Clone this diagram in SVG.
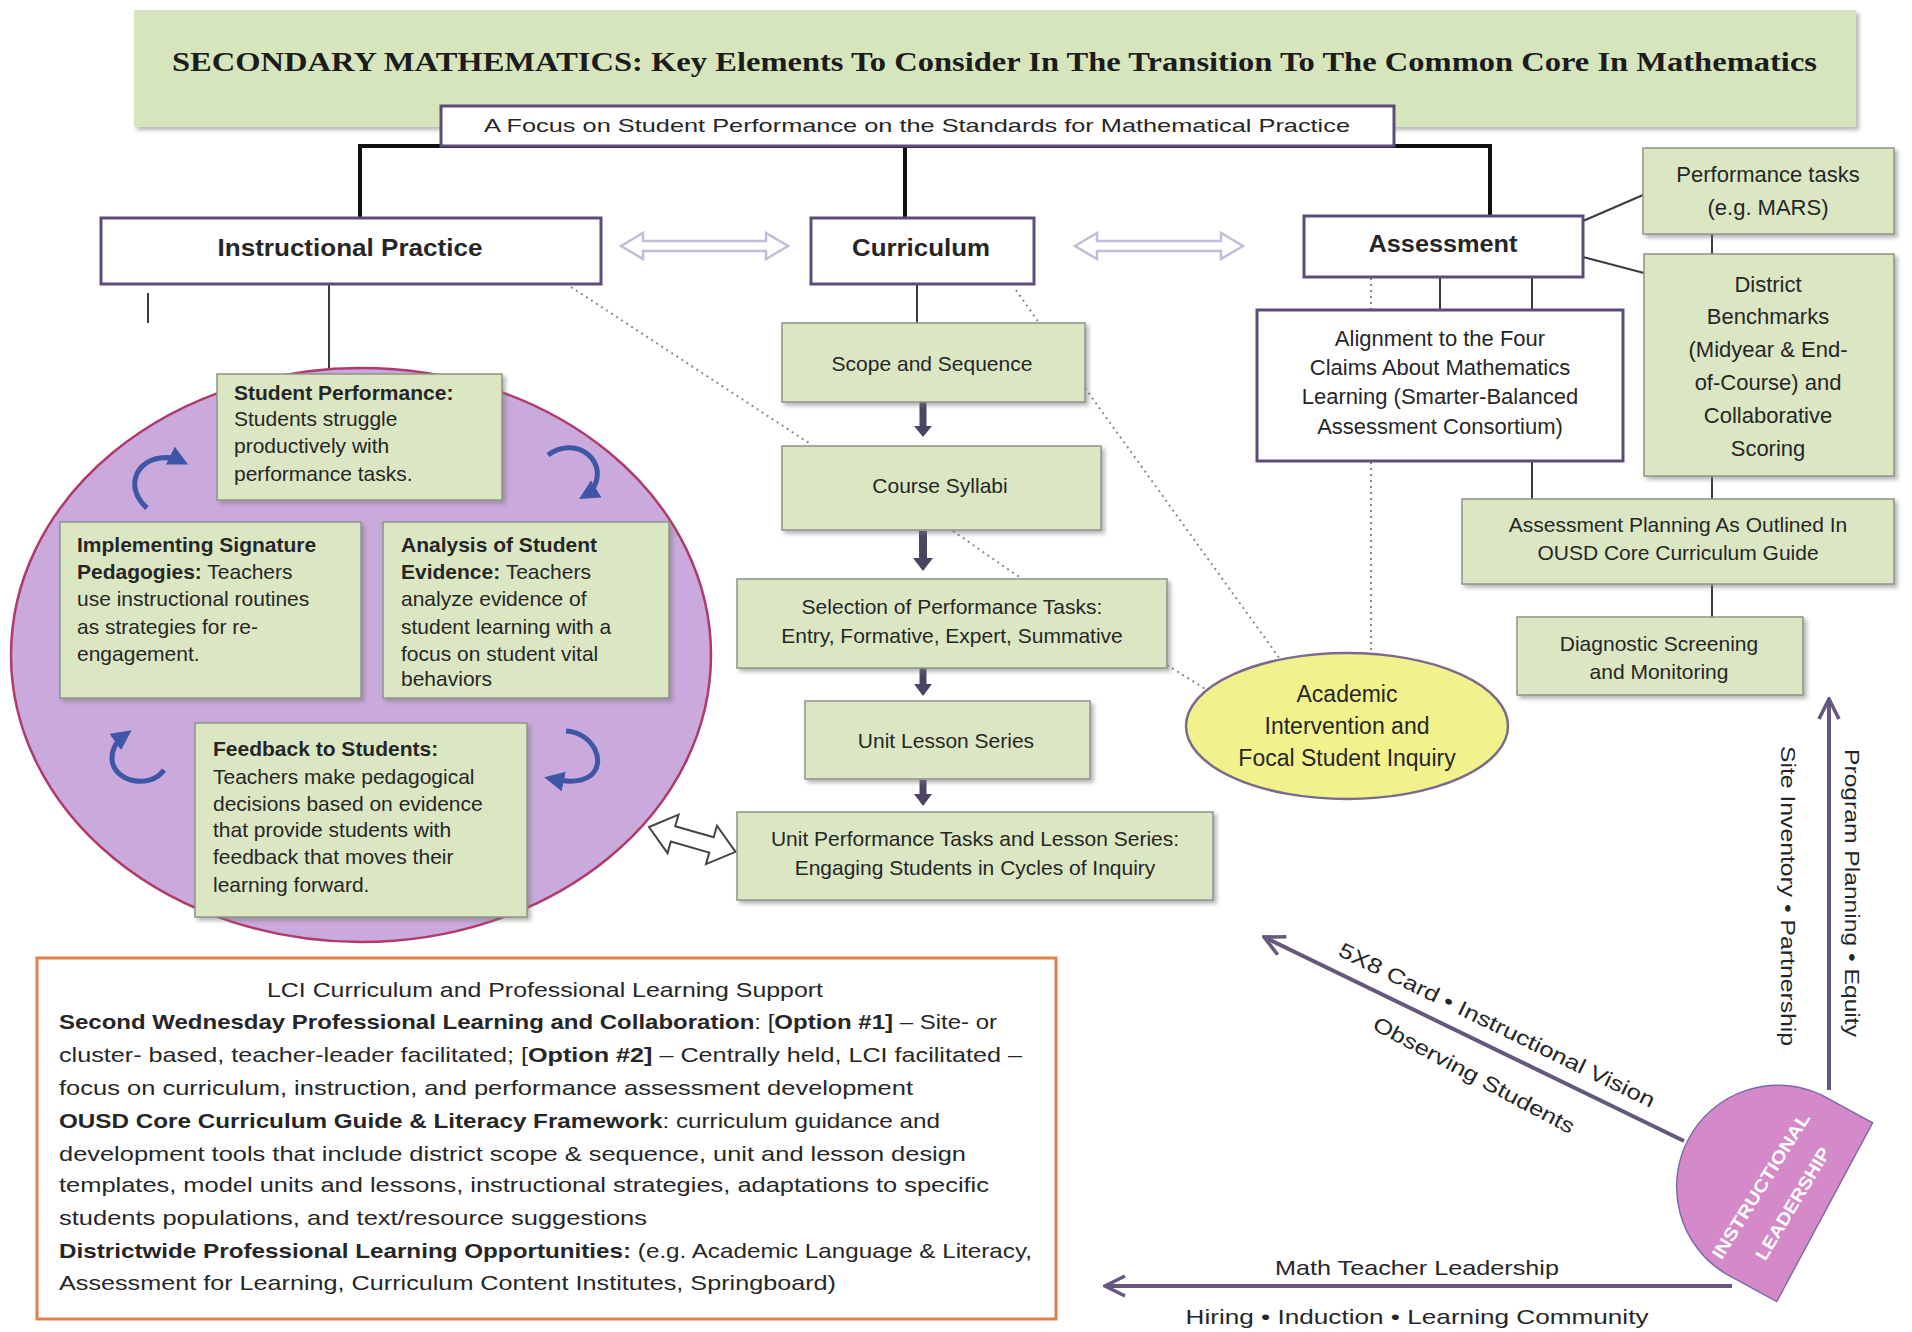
<svg xmlns="http://www.w3.org/2000/svg" width="1912" height="1332" viewBox="0 0 1912 1332">
<defs>
<style>
.t{font-family:"Liberation Sans",Arial,sans-serif;fill:#262626}
.b{font-weight:bold}
.c{text-anchor:middle}
.g{fill:#dbe7c3;stroke:#8f9488;stroke-width:1.5}
.w{fill:#ffffff;stroke:#5d4c78;stroke-width:3}
.tree{stroke:#111;stroke-width:4;fill:none}
.ln{stroke:#3a3a3a;stroke-width:2;fill:none}
.dot{stroke:#8a8a8a;stroke-width:2;stroke-dasharray:2 4;fill:none}
.blue{stroke:#3d57a6;stroke-width:5;fill:none;marker-end:url(#bh)}
.dn{fill:#4c4462}
.pa{stroke:#65577d;stroke-width:4;fill:none;marker-end:url(#oh)}
.dbl{fill:#fff;stroke:#c4bdd7;stroke-width:2.5}
</style>
<filter id="sh" x="-10%" y="-10%" width="130%" height="130%">
<feDropShadow dx="3" dy="3" stdDeviation="2" flood-color="#777" flood-opacity="0.55"/>
</filter>
<marker id="bh" viewBox="0 0 10 10" refX="6" refY="5" markerWidth="20" markerHeight="20" markerUnits="userSpaceOnUse" orient="auto">
<path d="M0,0 L10,5 L0,10 z" fill="#3d57a6"/>
</marker>
<marker id="oh" viewBox="0 0 12 12" refX="11" refY="6" markerWidth="24" markerHeight="24" markerUnits="userSpaceOnUse" orient="auto">
<path d="M1,1 L11,6 L1,11" fill="none" stroke="#65577d" stroke-width="1.8"/>
</marker>
</defs>
<rect width="1912" height="1332" fill="#ffffff"/>

<g id="title">
<rect x="134" y="10" width="1722" height="117" fill="#d7e5bd" filter="url(#sh)"/>
<text x="172" y="71" font-family="Liberation Serif,serif" font-weight="bold" font-size="28" fill="#1c1c1c" textLength="1645" lengthAdjust="spacingAndGlyphs">SECONDARY MATHEMATICS:  Key Elements To Consider In The Transition To The Common Core In Mathematics</text>
</g>

<g id="connectors">
<polyline class="tree" points="360,218 360,146 1490,146 1490,216"/>
<line class="tree" x1="905" y1="146" x2="905" y2="218"/>
<line class="ln" x1="329" y1="284" x2="329" y2="369"/>
<line class="ln" x1="148" y1="293" x2="148" y2="323"/>
<line class="ln" x1="917" y1="284" x2="917" y2="323"/>
<line class="ln" x1="1440" y1="277" x2="1440" y2="310"/>
<line class="ln" x1="1532" y1="277" x2="1532" y2="310"/>
<line class="ln" x1="1583" y1="221" x2="1643" y2="195"/>
<line class="ln" x1="1583" y1="257" x2="1644" y2="273"/>
<line class="ln" x1="1712" y1="234" x2="1712" y2="254"/>
<line class="ln" x1="1712" y1="476" x2="1712" y2="499"/>
<line class="ln" x1="1532" y1="461" x2="1532" y2="499"/>
<line class="ln" x1="1712" y1="584" x2="1712" y2="617"/>
<line class="dot" x1="571" y1="287" x2="812" y2="445"/>
<line class="dot" x1="1016" y1="290" x2="1039" y2="323"/>
<line class="dot" x1="1085" y1="388" x2="1280" y2="659"/>
<line class="dot" x1="953" y1="531" x2="1022" y2="579"/>
<line class="dot" x1="1167" y1="665" x2="1207" y2="690"/>
<line class="dot" x1="1371" y1="278" x2="1371" y2="310"/>
<line class="dot" x1="1371" y1="462" x2="1371" y2="653"/>
<polygon class="dbl" points="621,246 643,233 643,241 766,241 766,233 788,246 766,259 766,251 643,251 643,259"/>
<polygon class="dbl" points="1075,246 1097,233 1097,241 1221,241 1221,233 1243,246 1221,259 1221,251 1097,251 1097,259"/>
<polygon points="0,0 25,-20 25,-8 65,-8 65,-20 90,0 65,20 65,8 25,8 25,20" transform="translate(649,827) rotate(16)" fill="#fff" stroke="#444" stroke-width="2"/>
<g class="dn">
<rect x="919.5" y="402" width="7" height="25"/><polygon points="914,426 932,426 923,437"/>
<rect x="919" y="531" width="8" height="28"/><polygon points="913,558 933,558 923,571"/>
<rect x="919.5" y="668" width="7" height="17"/><polygon points="914,684 932,684 923,696"/>
<rect x="919.5" y="780" width="7" height="15"/><polygon points="914,794 932,794 923,806"/>
</g>
<line class="pa" x1="1829" y1="1090" x2="1829" y2="699"/>
<line class="pa" x1="1684" y1="1141" x2="1264" y2="937"/>
<line class="pa" x1="1732" y1="1286" x2="1105" y2="1286"/>
</g>

<g id="focus">
<rect class="w" x="441" y="106" width="953" height="40"/>
<text class="t c" x="917" y="132" font-size="19" textLength="866" lengthAdjust="spacingAndGlyphs">A Focus on Student Performance on the Standards for Mathematical Practice</text>
</g>

<g id="instructional-practice">
<rect class="w" x="101" y="218" width="500" height="66"/>
<text class="t b c" x="350" y="256" font-size="23" textLength="265" lengthAdjust="spacingAndGlyphs">Instructional Practice</text>
</g>
<g id="curriculum">
<rect class="w" x="811" y="218" width="223" height="66"/>
<text class="t b c" x="921" y="256" font-size="23" textLength="138" lengthAdjust="spacingAndGlyphs">Curriculum</text>
</g>
<g id="assessment">
<rect class="w" x="1304" y="216" width="279" height="61"/>
<text class="t b c" x="1443" y="252" font-size="23" textLength="149" lengthAdjust="spacingAndGlyphs">Assessment</text>
</g>

<g id="cycle">
<ellipse cx="361" cy="655" rx="350" ry="287" fill="#caa9dc" stroke="#b03a6b" stroke-width="2.5"/>
<path class="blue" d="M147,508 C126,490 133,462 160,458 C168,457 175,458 181,461"/>
<path class="blue" d="M548,455 C575,436 604,458 596,482 C594,488 591,492 586,495"/>
<path class="blue" d="M164,770 C150,790 112,782 112,758 C112,748 118,740 125,735"/>
<path class="blue" d="M566,731 C592,732 608,762 590,776 C580,783 566,782 552,779"/>
</g>

<g id="student-performance">
<rect class="g" x="217" y="374" width="285" height="126" filter="url(#sh)"/>
<text class="t" font-size="21"><tspan class="b" x="234" y="400">Student Performance:</tspan><tspan x="234" y="426">Students struggle</tspan><tspan x="234" y="453">productively with</tspan><tspan x="234" y="481">performance tasks.</tspan></text>
</g>
<g id="implementing">
<rect class="g" x="60" y="522" width="301" height="176" filter="url(#sh)"/>
<text class="t" font-size="21"><tspan class="b" x="77" y="552">Implementing Signature</tspan><tspan x="77" y="579"><tspan class="b">Pedagogies:</tspan>  Teachers</tspan><tspan x="77" y="606">use instructional routines</tspan><tspan x="77" y="634">as strategies for re-</tspan><tspan x="77" y="661">engagement.</tspan></text>
</g>
<g id="analysis">
<rect class="g" x="383" y="522" width="286" height="176" filter="url(#sh)"/>
<text class="t" font-size="21"><tspan class="b" x="401" y="552">Analysis of Student</tspan><tspan x="401" y="579"><tspan class="b">Evidence:</tspan> Teachers</tspan><tspan x="401" y="606">analyze evidence of</tspan><tspan x="401" y="634">student learning with a</tspan><tspan x="401" y="661">focus on student vital</tspan><tspan x="401" y="686">behaviors</tspan></text>
</g>
<g id="feedback">
<rect class="g" x="195" y="723" width="332" height="194" filter="url(#sh)"/>
<text class="t" font-size="21"><tspan class="b" x="213" y="756">Feedback to Students:</tspan><tspan x="213" y="784">Teachers make pedagogical</tspan><tspan x="213" y="811">decisions based on evidence</tspan><tspan x="213" y="837">that provide students with</tspan><tspan x="213" y="864">feedback that moves their</tspan><tspan x="213" y="892">learning forward.</tspan></text>
</g>

<g id="scope">
<rect class="g" x="782" y="323" width="303" height="79" filter="url(#sh)"/>
<text class="t c" x="932" y="371" font-size="21">Scope and Sequence</text>
</g>
<g id="syllabi">
<rect class="g" x="782" y="446" width="319" height="84" filter="url(#sh)"/>
<text class="t c" x="940" y="493" font-size="21">Course Syllabi</text>
</g>
<g id="selection">
<rect class="g" x="737" y="579" width="430" height="89" filter="url(#sh)"/>
<text class="t c" font-size="21"><tspan x="952" y="614">Selection of Performance Tasks:</tspan><tspan x="952" y="643">Entry, Formative, Expert, Summative</tspan></text>
</g>
<g id="unit-lesson">
<rect class="g" x="805" y="701" width="285" height="78" filter="url(#sh)"/>
<text class="t c" x="946" y="748" font-size="21">Unit Lesson Series</text>
</g>
<g id="unit-performance">
<rect class="g" x="737" y="812" width="476" height="88" filter="url(#sh)"/>
<text class="t c" font-size="21"><tspan x="975" y="846">Unit Performance Tasks and Lesson Series:</tspan><tspan x="975" y="875">Engaging Students in Cycles of Inquiry</tspan></text>
</g>

<g id="alignment">
<rect class="w" x="1257" y="310" width="366" height="151"/>
<text class="t c" font-size="22"><tspan x="1440" y="346">Alignment to the Four</tspan><tspan x="1440" y="375">Claims About Mathematics</tspan><tspan x="1440" y="404">Learning (Smarter-Balanced</tspan><tspan x="1440" y="434">Assessment Consortium)</tspan></text>
</g>
<g id="performance-tasks">
<rect class="g" x="1643" y="148" width="251" height="86" filter="url(#sh)"/>
<text class="t c" font-size="22"><tspan x="1768" y="182">Performance tasks</tspan><tspan x="1768" y="215">(e.g. MARS)</tspan></text>
</g>
<g id="district">
<rect class="g" x="1644" y="254" width="250" height="222" filter="url(#sh)"/>
<text class="t c" font-size="22"><tspan x="1768" y="292">District</tspan><tspan x="1768" y="324">Benchmarks</tspan><tspan x="1768" y="357">(Midyear &amp; End-</tspan><tspan x="1768" y="390">of-Course) and</tspan><tspan x="1768" y="423">Collaborative</tspan><tspan x="1768" y="456">Scoring</tspan></text>
</g>
<g id="assessment-planning">
<rect class="g" x="1462" y="499" width="432" height="85" filter="url(#sh)"/>
<text class="t c" font-size="21"><tspan x="1678" y="532">Assessment Planning As Outlined In</tspan><tspan x="1678" y="560">OUSD Core Curriculum Guide</tspan></text>
</g>
<g id="diagnostic">
<rect class="g" x="1517" y="617" width="286" height="78" filter="url(#sh)"/>
<text class="t c" font-size="21"><tspan x="1659" y="651">Diagnostic Screening</tspan><tspan x="1659" y="679">and Monitoring</tspan></text>
</g>
<g id="academic">
<ellipse cx="1347" cy="726" rx="161" ry="73" fill="#f2f28c" stroke="#7a6a8c" stroke-width="2.5"/>
<text class="t c" font-size="23"><tspan x="1347" y="702">Academic</tspan><tspan x="1347" y="734">Intervention and</tspan><tspan x="1347" y="766">Focal Student Inquiry</tspan></text>
</g>

<g id="lci">
<rect x="37" y="958" width="1019" height="361" fill="#fff" stroke="#e0804a" stroke-width="3"/>
<g class="t" font-size="21">
<text class="c" x="545" y="997" textLength="556" lengthAdjust="spacingAndGlyphs">LCI Curriculum and Professional Learning Support</text>
<text x="59" y="1029" textLength="938" lengthAdjust="spacingAndGlyphs"><tspan class="b">Second Wednesday Professional Learning and Collaboration</tspan>: [<tspan class="b">Option #1]</tspan> – Site- or</text>
<text x="59" y="1062" textLength="963" lengthAdjust="spacingAndGlyphs">cluster- based, teacher-leader facilitated; [<tspan class="b">Option #2]</tspan> – Centrally held, LCI facilitated –</text>
<text x="59" y="1095" textLength="854" lengthAdjust="spacingAndGlyphs">focus on curriculum, instruction, and performance assessment development</text>
<text x="59" y="1128" textLength="881" lengthAdjust="spacingAndGlyphs"><tspan class="b">OUSD Core Curriculum Guide &amp; Literacy Framework</tspan>: curriculum guidance and</text>
<text x="59" y="1161" textLength="907" lengthAdjust="spacingAndGlyphs">development tools that include district scope &amp; sequence, unit and lesson design</text>
<text x="59" y="1192" textLength="930" lengthAdjust="spacingAndGlyphs">templates, model units and lessons, instructional strategies, adaptations to specific</text>
<text x="59" y="1225" textLength="588" lengthAdjust="spacingAndGlyphs">students populations, and text/resource suggestions</text>
<text x="59" y="1258" textLength="973" lengthAdjust="spacingAndGlyphs"><tspan class="b">Districtwide Professional Learning Opportunities:</tspan> (e.g. Academic Language &amp; Literacy,</text>
<text x="59" y="1290" textLength="777" lengthAdjust="spacingAndGlyphs">Assessment for Learning, Curriculum Content Institutes, Springboard)</text>
</g>
</g>

<g id="instructional-leadership" transform="translate(1773,1184) scale(0.94) translate(-1779,-1182)">
<path d="M1830,1087 L1885,1117 L1783,1307 L1728,1277 A108,108 0 0 1 1830,1087 Z" fill="#d48ac9" stroke="#7a68a8" stroke-width="1.5"/>
<text class="b c" transform="translate(1766,1184) rotate(-58)" dy="0.35em" font-family="Liberation Sans,Arial,sans-serif" font-size="19" fill="#fff" textLength="179" lengthAdjust="spacingAndGlyphs">INSTRUCTIONAL</text>
<text class="b c" transform="translate(1800,1203) rotate(-59)" dy="0.35em" font-family="Liberation Sans,Arial,sans-serif" font-size="19" fill="#fff" textLength="136" lengthAdjust="spacingAndGlyphs">LEADERSHIP</text>
</g>

<g id="labels" class="t" font-size="21">
<text class="c" transform="translate(1852,893) rotate(90)" dy="0.35em" textLength="288" lengthAdjust="spacingAndGlyphs">Program Planning • Equity</text>
<text class="c" transform="translate(1788,896) rotate(90)" dy="0.35em" textLength="300" lengthAdjust="spacingAndGlyphs">Site Inventory • Partnership</text>
<text class="c" transform="translate(1497,1025) rotate(26)" dy="0.35em" textLength="349" lengthAdjust="spacingAndGlyphs">5X8 Card • Instructional Vision</text>
<text class="c" transform="translate(1474,1075) rotate(28)" dy="0.35em" textLength="225" lengthAdjust="spacingAndGlyphs">Observing Students</text>
<text class="c" x="1417" y="1275" textLength="284" lengthAdjust="spacingAndGlyphs">Math Teacher Leadership</text>
<text class="c" x="1417" y="1324" textLength="463" lengthAdjust="spacingAndGlyphs">Hiring • Induction • Learning Community</text>
</g>
</svg>
